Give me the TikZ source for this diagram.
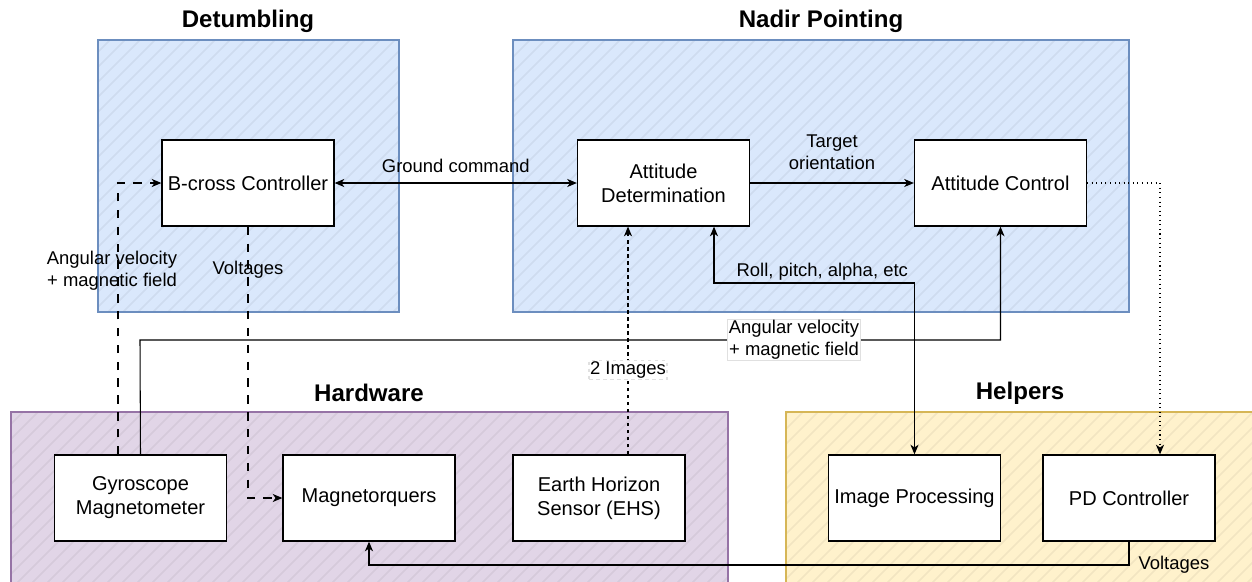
\documentclass[tikz,border=0pt]{standalone}
\usepackage{fontspec}
\setmainfont{Liberation Sans}
\usetikzlibrary{arrows.meta}

\definecolor{bluefill}{HTML}{DAE8FC}
\definecolor{blueline}{HTML}{6C8EBF}
\definecolor{purplefill}{HTML}{E1D5E7}
\definecolor{purpleline}{HTML}{9673A6}
\definecolor{yellowfill}{HTML}{FFF2CC}
\definecolor{yellowline}{HTML}{D6B656}

\begin{document}
\begin{tikzpicture}[x=0.02cm,y=-0.02cm,
    >={Stealth[length=5.5pt,width=4.6pt,inset=1.6pt]},
    block/.style={draw,line width=0.75pt,fill=white,minimum width=3.44cm,minimum height=1.72cm,
      align=center,inner sep=2pt,font=\fontsize{11.4}{13.7}\selectfont},
    grouptitle/.style={font=\fontsize{13.7}{16}\selectfont\bfseries},
    lbl/.style={font=\fontsize{10.5}{12.6}\selectfont,align=center},
    lblbg/.style={lbl,fill=white,draw=black!12,inner sep=0.6pt},
    conn/.style={line width=0.6pt,->},
    longdash/.style={dash pattern=on 4.8pt off 4.8pt},
    shortdash/.style={dash pattern=on 2pt off 2pt},
    hatch/.style={black,opacity=0.05,line width=0.9pt}]
    \useasboundingbox (0,0) rectangle (1252,582);

    % groups
    \fill[bluefill] (98,40) rectangle (399,312);
    \fill[bluefill] (513,40) rectangle (1129,312);
    \fill[purplefill] (11,412) rectangle (728,590);
    \fill[yellowfill] (786,412) rectangle (1260,590);
    \begin{scope}
      \clip (98,40) rectangle (399,312) (513,40) rectangle (1129,312)
            (11,412) rectangle (728,590) (786,412) rectangle (1260,590);
      \foreach \h in {-660,-645,...,1260}
        \draw[hatch] (\h,600) -- ++(620,-620);
    \end{scope}
    \draw[blueline,line width=0.75pt] (98,40) rectangle (399,312);
    \draw[blueline,line width=0.75pt] (513,40) rectangle (1129,312);
    \draw[purpleline,line width=0.75pt] (11,412) rectangle (728,590);
    \draw[yellowline,line width=0.75pt] (786,412) rectangle (1260,590);

    \node[grouptitle] (dettitle) at (248,21) {Detumbling};
    \node[grouptitle] (nadtitle) at (821,21) {Nadir Pointing};
    \node[grouptitle] (hwtitle) at (369,393) {Hardware};
    \node[grouptitle] (hlptitle) at (1020,393) {Helpers};

    % blocks
    \node[block] (bcross) at (248,183) {B-cross Controller};
    \node[block] (attdet) at (663.5,183) {Attitude\\Determination};
    \node[block] (attctl) at (1000.5,183) {Attitude Control};
    \node[block] (gyro) at (140.5,498) {Gyroscope\\Magnetometer};
    \node[block] (magn) at (369,498) {Magnetorquers};
    \node[block] (ehs) at (599,498) {Earth Horizon\\Sensor (EHS)};
    \node[block] (imgproc) at (914.5,498) {Image Processing};
    \node[block] (pdc) at (1129,498) {PD Controller};

    \coordinate (gyroin) at (118,0);
    \coordinate (avturn) at (140,340);
    \coordinate (ehsout) at (628,0);
    \coordinate (rollturn) at (714,283);
    \coordinate (pdin) at (1160,183);
    \coordinate (voltturn) at (0,565);

    % connectors
    \draw[conn,<->] (bcross) -- (attdet) node[lbl,midway,above=2.3pt] {Ground command};
    \draw[conn] (attdet) -- (attctl) node[lbl,midway,above=4pt] {Target\\orientation};
    \draw[conn,longdash] (gyro.north -| gyroin) |- (bcross.west)
      node[lbl,pos=0.338,xshift=-3.4pt] {Angular velocity\\+ magnetic field};
    \draw[conn,longdash] (bcross.south) |- (magn.west) node[lbl,pos=0.08] {Voltages};
    \draw[conn,shortdash] (ehs.north -| ehsout) -- (attdet.south -| ehsout)
      node[lblbg,pos=0.37] {2 Images};
    \draw[conn] (gyro.north) -- (avturn) -| (attctl.south)
      node[lblbg,pos=0.38] {Angular velocity\\+ magnetic field};
    \draw[conn,<->] (attdet.south -| rollturn) -- (rollturn) -| (imgproc.north)
      node[lbl,pos=0.27,above,inner sep=1pt] {Roll, pitch, alpha, etc};
    \draw[conn,dotted] (attctl.east) -- (pdin) -- (pdc.north -| pdin);
    \draw[conn] (pdc.south) -- (pdc.south |- voltturn) -| (magn.south)
      node[lbl,pos=0,right=1.8pt] {Voltages};
  \end{tikzpicture}
\end{document}
